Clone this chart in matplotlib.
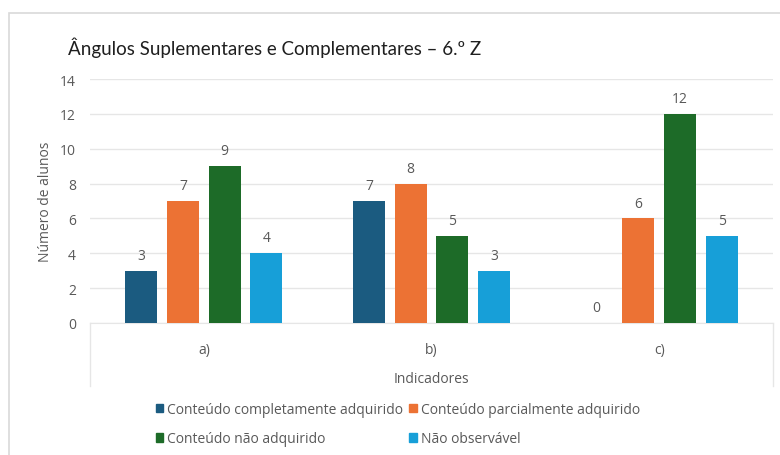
import numpy as np
import matplotlib.pyplot as plt
from matplotlib.patches import Rectangle
from matplotlib.lines import Line2D

categories = ['a)', 'b)', 'c)']
series_names = ['Conteúdo completamente adquirido', 'Conteúdo parcialmente adquirido',
                'Conteúdo não adquirido', 'Não observável']
completo = [3, 7, 0]
parcial = [7, 8, 6]
nao_adq = [9, 5, 12]
nao_obs = [4, 3, 5]
colors = ['#1b5b80', '#ec7234', '#1d6b28', '#179fd8']

title = 'Ângulos Suplementares e Complementares – 6.º Z'
y_ticks = [0, 2, 4, 6, 8, 10, 12, 14]

txt = '#595959'
plt.rcParams['font.family'] = ['Open Sans', 'DejaVu Sans']

fig = plt.figure(figsize=(7.8, 4.56), dpi=100)
# outer chart frame
fig.patches.append(Rectangle((9 / 780, -0.01), 0.999, 1 - 14 / 456 + 0.01,
                             transform=fig.transFigure, fill=False,
                             edgecolor='#d9d9d9', lw=1.2))

ax = fig.add_axes([90 / 780, 1 - 324 / 456, (773 - 90) / 780, (324 - 80) / 456])
x = np.arange(len(categories))
step = 0.183
width = 0.14
all_series = [completo, parcial, nao_adq, nao_obs]
handles = []
for i, (vals, c, name) in enumerate(zip(all_series, colors, series_names)):
    pos = x + (i - 1.5) * step
    bars = ax.bar(pos, vals, width=width, color=c, label=name, zorder=3)
    handles.append(Rectangle((0, 0), 1, 1, color=c))
    for b, v in zip(bars, vals):
        ax.text(b.get_x() + b.get_width() / 2, v + 0.45, str(v), ha='center', va='bottom',
                fontsize=10, color=txt)

ax.set_xlim(-0.5, 2.5)
ax.set_ylim(0, 14)
ax.set_yticks(y_ticks)
ax.set_yticklabels([str(t) for t in y_ticks], fontsize=10, color=txt)
ax.set_xticks(x)
ax.set_xticklabels(categories, fontsize=10, color=txt)
ax.tick_params(axis='y', length=0, pad=10)
ax.tick_params(axis='x', length=0, pad=14)
ax.grid(axis='y', color='#e6e6e6', lw=1, zorder=0)
for s in ['top', 'right', 'left']:
    ax.spines[s].set_visible(False)
ax.spines['bottom'].set_color('#e6e6e6')

# category box below axis
box_bottom = -(387 - 324) / 35 * 2
for xv in (-0.5, 2.5):
    ax.add_line(Line2D([xv, xv], [0, box_bottom], color='#e6e6e6', lw=1, clip_on=False))

ax.set_ylabel('Número de alunos', fontsize=10, color=txt, labelpad=5)
ax.set_xlabel('Indicadores', fontsize=10, color=txt, labelpad=10)

fig.text(68 / 780, 1 - 48 / 456, title, fontsize=13.5, color='#1f1f1f', va='center', ha='left',
         family=['Lato', 'DejaVu Sans'])

order = [0, 2, 1, 3]
fig.legend([handles[i] for i in order], [series_names[i] for i in order], ncol=2,
           loc='center left', bbox_to_anchor=(143 / 780, 1 - 425 / 456),
           frameon=False, fontsize=10, labelcolor=txt, handlelength=0.55, handleheight=0.55,
           handletextpad=0.3, columnspacing=0.4, labelspacing=1.05)

fig.savefig('out.png', dpi=100)
